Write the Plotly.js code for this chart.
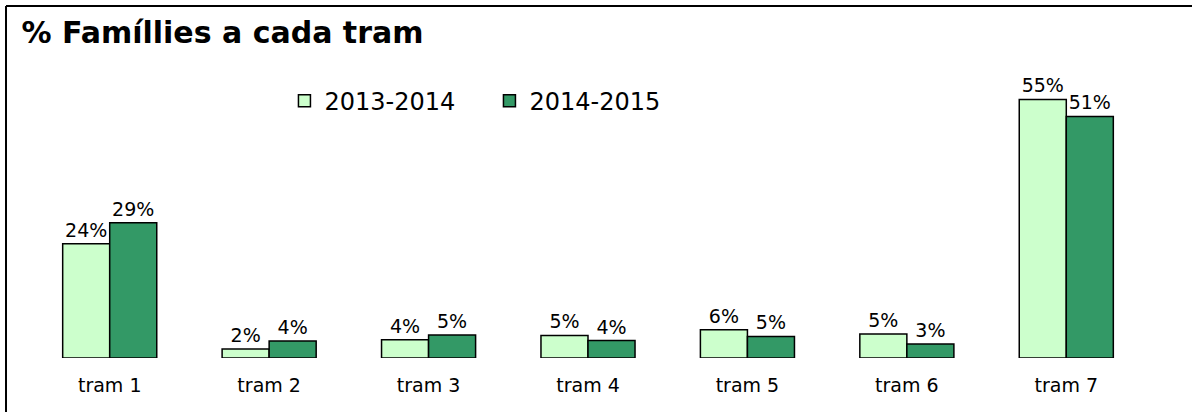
<!DOCTYPE html>
<html>
<head>
<meta charset="utf-8">
<script src="https://cdn.plot.ly/plotly-3.0.1.min.js"></script>
<style>
html,body{margin:0;padding:0;background:#fff;}
#chart{width:1192px;height:412px;}
</style>
</head>
<body>
<div id="chart"></div>
<script>
const categories = ["tram 1","tram 2","tram 3","tram 4","tram 5","tram 6","tram 7"];
const seriesNames = ["2013-2014","2014-2015"];
const values2013 = [24.3, 1.9, 3.9, 4.8, 6.0, 5.1, 55.0];
const values2014 = [28.8, 3.6, 4.9, 3.7, 4.6, 3.0, 51.4];
const colors = ["#CCFFCC", "#339966"];

const pct = v => Math.round(v) + "%";
const FONT = "DejaVu Sans, Verdana, sans-serif";

const mk = (name, vals, color) => ({
  type: "bar",
  name: name,
  x: categories,
  y: vals,
  text: vals.map(pct),
  textposition: "outside",
  textfont: {family: FONT, size: 19, color: "#000"},
  cliponaxis: false,
  marker: {color: color, line: {color: "#000", width: 1.5}},
  hoverinfo: "skip"
});

const data = [
  mk(seriesNames[0], values2013, colors[0]),
  mk(seriesNames[1], values2014, colors[1])
];

const layout = {
  width: 1192, height: 412,
  margin: {l: 30, r: 46, t: 60, b: 54},
  paper_bgcolor: "#fff", plot_bgcolor: "#fff",
  font: {family: FONT, color: "#000"},
  title: {
    text: "<b>% Famíllies a cada tram</b>",
    font: {family: FONT, size: 30, color: "#000"},
    x: 0.018, xanchor: "left", xref: "container",
    y: 0.92, yanchor: "middle", yref: "container"
  },
  barmode: "group",
  bargap: 0.41,
  bargroupgap: 0,
  showlegend: true,
  legend: {
    orientation: "h",
    x: 0.228, xanchor: "left",
    y: 0.862, yanchor: "middle",
    font: {family: FONT, size: 24, color: "#000"},
    bgcolor: "rgba(0,0,0,0)",
    itemwidth: 30,
    entrywidth: 160,
    entrywidthmode: "pixels",
    traceorder: "normal"
  },
  xaxis: {
    showline: false, ticks: "", showgrid: false, zeroline: false,
    tickfont: {family: FONT, size: 19, color: "#000"},
    ticklabelstandoff: 14,
    fixedrange: true
  },
  yaxis: {
    range: [0, 63.4],
    visible: false, showgrid: false, zeroline: false,
    fixedrange: true
  },
  shapes: [
    {type: "line", xref: "paper", yref: "paper", x0: -0.0215, x1: 1.2, y0: 1.181, y1: 1.181, line: {color: "#000", width: 2}},
    {type: "line", xref: "paper", yref: "paper", x0: -0.0215, x1: -0.0215, y0: 1.181, y1: -0.3, line: {color: "#000", width: 2}}
  ]
};

Plotly.newPlot("chart", data, layout, {displayModeBar: false, staticPlot: true});
</script>
</body>
</html>
